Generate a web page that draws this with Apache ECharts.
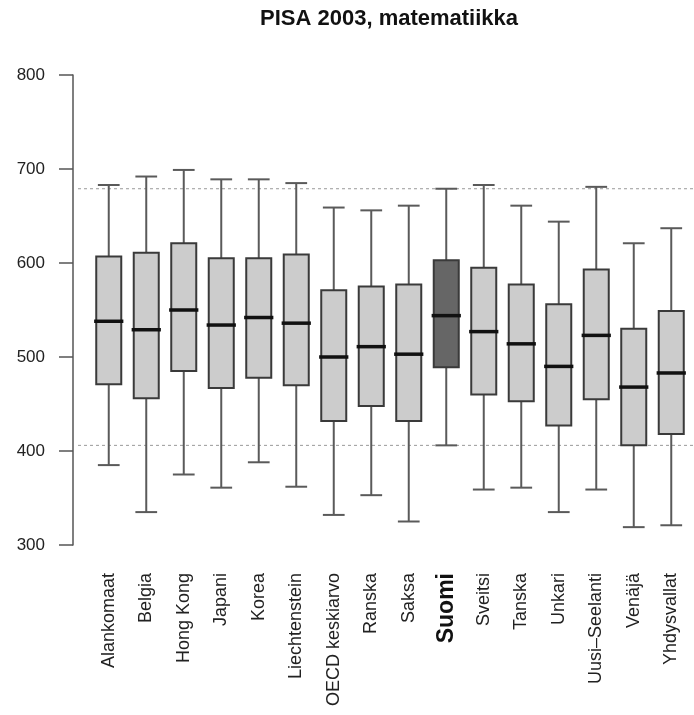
<!DOCTYPE html>
<html>
<head>
<meta charset="utf-8">
<script src="https://cdn.jsdelivr.net/npm/echarts@6/dist/echarts.min.js"></script>
<style>
html,body{margin:0;padding:0;background:#fff;}
#chart{width:694px;height:715px;}
</style>
</head>
<body>
<div id="chart"></div>
<script>
var categories = ['Alankomaat','Belgia','Hong Kong','Japani','Korea','Liechtenstein','OECD keskiarvo','Ranska','Saksa','Suomi','Sveitsi','Tanska','Unkari','Uusi–Seelanti','Venäjä','Yhdysvallat'];
var whiskerLow  = [385,335,375,361,388,362,332,353,325,406,359,361,335,359,319,321];
var q1          = [471,456,485,467,478,470,432,448,432,489,460,453,427,455,406,418];
var median      = [538,529,550,534,542,536,500,511,503,544,527,514,490,523,468,483];
var q3          = [607,611,621,605,605,609,571,575,577,603,595,577,556,593,530,549];
var whiskerHigh = [683,692,699,689,689,685,659,656,661,679,683,661,644,681,621,637];
var refLines = [679, 406];
var yTicks = [300,400,500,600,700,800];
var highlight = 'Suomi';

var boxData = categories.map(function(c,i){
  return [i, whiskerLow[i], q1[i], median[i], q3[i], whiskerHigh[i]];
});
var refData = refLines.map(function(v){ return [0, v]; });

var chart = echarts.init(document.getElementById('chart'));
chart.setOption({
  animation:false,
  backgroundColor:'#fff',
  title:{
    text:'PISA 2003, matematiikka',
    left:260, top:8, padding:0,
    textStyle:{fontFamily:'Liberation Sans', fontWeight:'bold', fontSize:22, color:'#111'}
  },
  grid:[
    {left:78, right:0, top:75, height:470},
    {left:90, right:4, top:75, height:470}
  ],
  xAxis:[
    {gridIndex:0, type:'value', min:0, max:1, show:false},
    {gridIndex:1, type:'category', data:categories, boundaryGap:true,
     axisLine:{show:false}, axisTick:{show:false}, splitLine:{show:false},
     axisLabel:{
       rotate:90, margin:28, interval:0, color:'#222',
       fontFamily:'Liberation Sans', fontSize:18,
       formatter:function(v){ return v===highlight ? '{b|'+v+'}' : v; },
       rich:{b:{fontFamily:'Liberation Sans', fontWeight:'bold', fontSize:23, color:'#111'}}
     }}
  ],
  yAxis:[
    {gridIndex:0, type:'value', min:300, max:800, show:false},
    {gridIndex:1, type:'value', min:300, max:800, interval:100, offset:17,
     axisLine:{show:true, lineStyle:{color:'#555', width:1.5}},
     axisTick:{show:true, inside:false, length:14, lineStyle:{color:'#555', width:1.5}},
     splitLine:{show:false},
     axisLabel:{margin:28, color:'#222', fontFamily:'Liberation Sans', fontSize:17,
       formatter:function(v){ return yTicks.indexOf(v)>=0 ? String(v) : ''; }}
    }
  ],
  series:[
    {
      type:'custom', xAxisIndex:0, yAxisIndex:0, data:refData, silent:true, z:1,
      renderItem:function(params, api){
        var v = api.value(1);
        var p0 = api.coord([0, v]);
        var p1 = api.coord([1, v]);
        return {type:'line', shape:{x1:p0[0], y1:p0[1], x2:p1[0], y2:p1[1]},
          style:{stroke:'#9a9a9a', lineWidth:1, lineDash:[3,3]}};
      }
    },
    {
      type:'custom', xAxisIndex:1, yAxisIndex:1, data:boxData, z:2,
      encode:{x:0, y:[1,2,3,4,5]},
      renderItem:function(params, api){
        var idx = api.value(0);
        var band = api.size([1,0])[0];
        var bw = band*0.667;
        var cw = band*0.58;
        var mw = band*0.78;
        var pLow = api.coord([idx, api.value(1)]);
        var pQ1 = api.coord([idx, api.value(2)]);
        var pMed = api.coord([idx, api.value(3)]);
        var pQ3 = api.coord([idx, api.value(4)]);
        var pHigh = api.coord([idx, api.value(5)]);
        var cx = pMed[0];
        var isH = categories[idx] === highlight;
        var wStyle = {stroke:'#5a5a5a', lineWidth:2};
        return {type:'group', children:[
          {type:'line', shape:{x1:cx, y1:pQ3[1], x2:cx, y2:pHigh[1]}, style:wStyle},
          {type:'line', shape:{x1:cx, y1:pQ1[1], x2:cx, y2:pLow[1]}, style:wStyle},
          {type:'line', shape:{x1:cx-cw/2, y1:pHigh[1], x2:cx+cw/2, y2:pHigh[1]}, style:wStyle},
          {type:'line', shape:{x1:cx-cw/2, y1:pLow[1], x2:cx+cw/2, y2:pLow[1]}, style:wStyle},
          {type:'rect', shape:{x:cx-bw/2, y:pQ3[1], width:bw, height:pQ1[1]-pQ3[1]},
            style:{fill:isH?'#666666':'#cccccc', stroke:'#3a3a3a', lineWidth:2}},
          {type:'line', shape:{x1:cx-mw/2, y1:pMed[1], x2:cx+mw/2, y2:pMed[1]},
            style:{stroke:'#111', lineWidth:3.5}}
        ]};
      }
    }
  ]
});
</script>
</body>
</html>
